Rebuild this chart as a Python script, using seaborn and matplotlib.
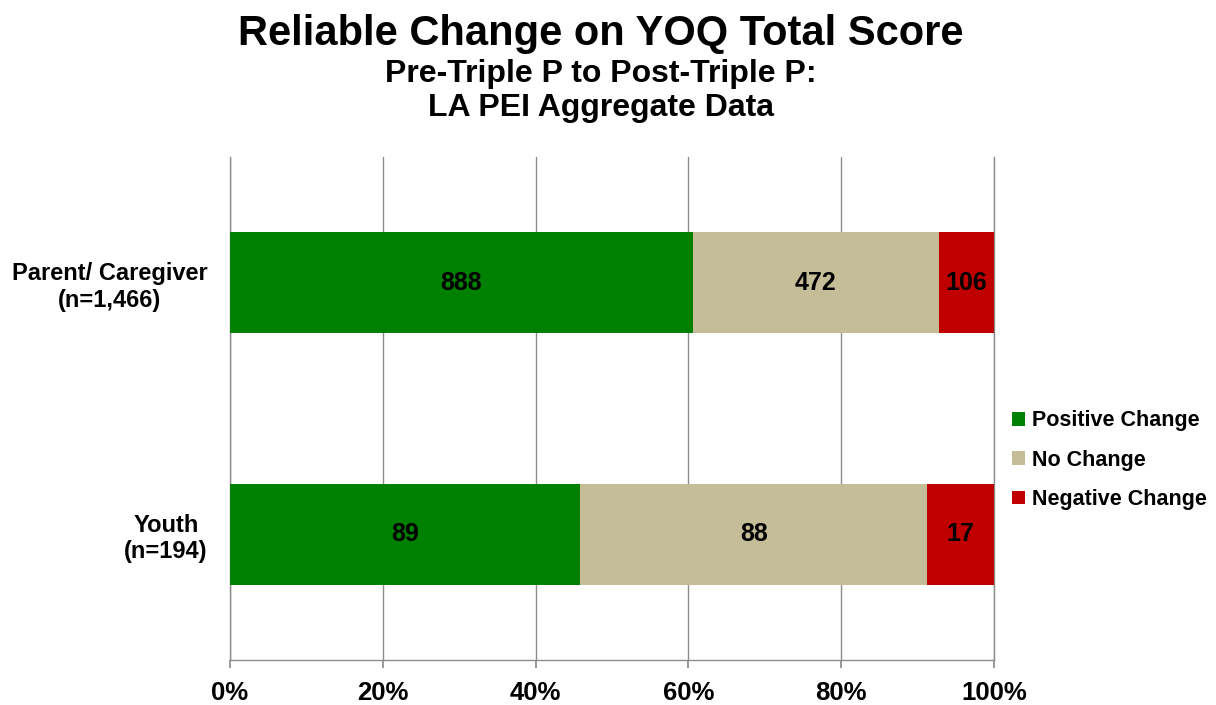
import matplotlib
matplotlib.use("Agg")
import matplotlib.pyplot as plt
import seaborn as sns
import pandas as pd
import numpy as np

# data
groups = ["Parent/ Caregiver\n(n=1,466)", "Youth\n(n=194)"]
positive = [888, 89]
no_change = [472, 88]
negative = [106, 17]
series_names = ["Positive Change", "No Change", "Negative Change"]
series_colors = ["#008000", "#C4BD97", "#C00000"]
x_ticks = [0, 20, 40, 60, 80, 100]

sns.set_theme(style="white")
plt.rcParams["font.family"] = ["Liberation Sans", "DejaVu Sans"]
plt.rcParams["font.weight"] = "bold"
plt.rcParams["text.color"] = "black"
plt.rcParams["xtick.color"] = "black"
plt.rcParams["ytick.color"] = "black"

counts = np.array([positive, no_change, negative], dtype=float)
totals = counts.sum(axis=0)
pct = counts / totals * 100
cum = np.cumsum(pct, axis=0)

fig = plt.figure(figsize=(12.16, 7.05), dpi=100)
ax = fig.add_axes([230 / 1216, 1 - 660 / 705, 764 / 1216, 503 / 705])

# stacked bars: draw cumulative widths from the longest down
for i in reversed(range(3)):
    df = pd.DataFrame({"group": groups, "value": cum[i]})
    sns.barplot(data=df, x="value", y="group", orient="h", color=series_colors[i],
                width=0.4, saturation=1, label=series_names[i], ax=ax, zorder=3,
                linewidth=0)

# segment labels
for i in range(3):
    start = cum[i] - pct[i]
    for j in range(len(groups)):
        ax.text(start[j] + pct[i][j] / 2, j, f"{int(counts[i][j])}", ha="center", va="center",
                fontsize=18, fontweight="bold", color="black", zorder=4)

ax.set_xlim(0, 100)
ax.set_ylim(1.5, -0.5)
ax.set_xticks(x_ticks)
ax.set_xticklabels([f"{t}%" for t in x_ticks], fontsize=18.5, fontweight="bold")
ax.set_yticks(range(len(groups)))
ax.set_yticklabels(groups, fontsize=17, fontweight="bold")
ax.set_xlabel("")
ax.set_ylabel("")

ax.grid(axis="x", color="#8C8C8C", linewidth=1, zorder=0)
ax.grid(axis="y", visible=False)
ax.spines["top"].set_visible(False)
for side in ["left", "bottom", "right"]:
    ax.spines[side].set_color("#8C8C8C")
    ax.spines[side].set_linewidth(1)
    ax.spines[side].set_zorder(0)
ax.tick_params(axis="x", bottom=True, length=6, color="#8C8C8C", pad=9, labelcolor="black")
ax.tick_params(axis="y", left=False, pad=10, labelcolor="black")
for lab in ax.get_yticklabels():
    lab.set_multialignment("center")
    lab.set_horizontalalignment("right")

# legend in the original series order
handles, labels = ax.get_legend_handles_labels()
order = [labels.index(n) for n in series_names]
fig.legend([handles[k] for k in order], series_names, loc="upper left",
           bbox_to_anchor=(993 / 1216, 1 - 391 / 705), frameon=False,
           prop={"size": 15.5, "weight": "bold"}, handlelength=0.6, handleheight=0.6,
           handletextpad=0.3, labelspacing=0.85)
if ax.legend_:
    ax.legend_.remove()

fig.text(601 / 1216, 1 - 45 / 705, "Reliable Change on YOQ Total Score", ha="center",
         va="baseline", fontsize=30, fontweight="bold")
fig.text(601 / 1216, 1 - 82 / 705, "Pre-Triple P to Post-Triple P:", ha="center",
         va="baseline", fontsize=23, fontweight="bold")
fig.text(601 / 1216, 1 - 116 / 705, "LA PEI Aggregate Data", ha="center",
         va="baseline", fontsize=23, fontweight="bold")

fig.savefig("out.png", dpi=100, facecolor="white")
